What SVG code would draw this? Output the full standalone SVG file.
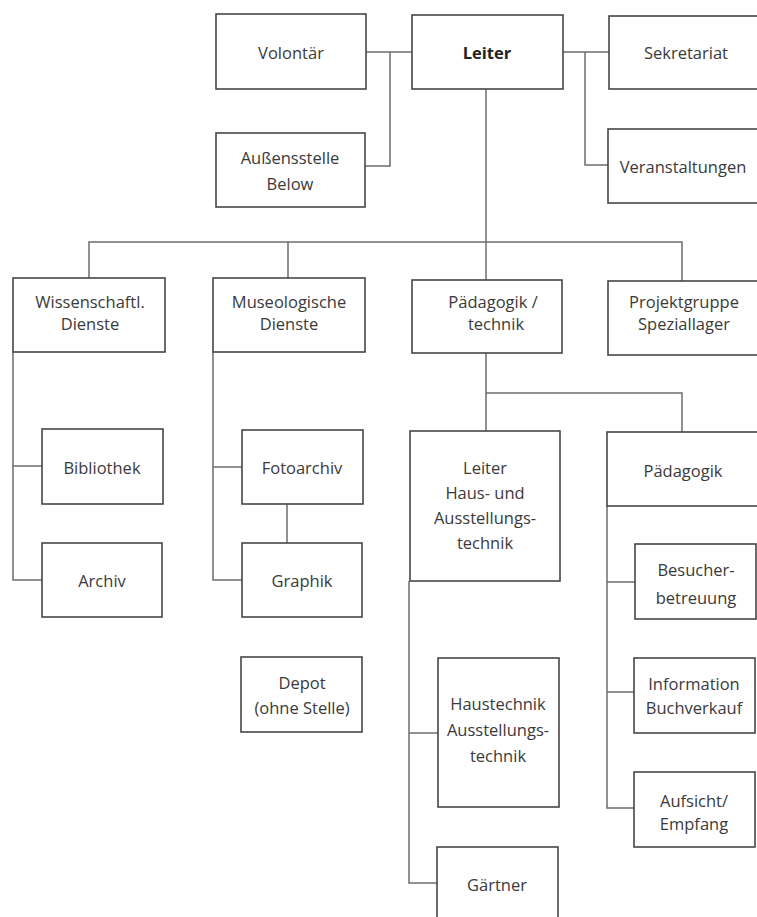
<svg xmlns="http://www.w3.org/2000/svg" width="757" height="917" viewBox="0 0 757 917">
<style>
.box{fill:#fff;stroke:#464646;stroke-width:1.6}
.t{font-family:"Open Sans","Liberation Sans",sans-serif;font-size:16.5px;fill:#3a3a3a;text-anchor:middle;dominant-baseline:central}
.b{font-weight:bold;fill:#222}
.c{fill:none;stroke:#6e6e6e;stroke-width:1.5}
</style>
<rect width="757" height="917" fill="#fff"/>
<g id="connectors" class="c">
<path d="M366 52H412M390 52V166H365"/>
<path d="M563 52H609M585 52V165H608"/>
<path d="M486 89V280"/>
<path d="M89 278V242H682V281M288 242V278"/>
<path d="M13 352V580H42M13 466H42"/>
<path d="M213 352V580H242M213 467H242"/>
<path d="M287 504V543"/>
<path d="M486 353V431M486 393H682V432"/>
<path d="M409 581V883H437M409 733H438"/>
<path d="M607 506V808H634M607 582H635M607 692H634"/>
</g>
<g id="volontaer"><rect class="box" x="216" y="14" width="150" height="75"/><text class="t" x="291" y="52">Volontär</text></g>
<g id="leiter"><rect class="box" x="412" y="15" width="151" height="74"/><text class="t b" x="487" y="52">Leiter</text></g>
<g id="sekretariat"><rect class="box" x="609" y="16" width="160" height="73"/><text class="t" x="686" y="52">Sekretariat</text></g>
<g id="aussenstelle"><rect class="box" x="216" y="133" width="149" height="74"/><text class="t" x="290" y="157">Außensstelle</text><text class="t" x="290" y="183">Below</text></g>
<g id="veranstaltungen"><rect class="box" x="608" y="129" width="160" height="74"/><text class="t" x="683" y="166">Veranstaltungen</text></g>
<g id="wissenschaftl"><rect class="box" x="13" y="278" width="152" height="74"/><text class="t" x="90" y="301">Wissenschaftl.</text><text class="t" x="90" y="323">Dienste</text></g>
<g id="museologische"><rect class="box" x="213" y="278" width="152" height="74"/><text class="t" x="289" y="301">Museologische</text><text class="t" x="289" y="323">Dienste</text></g>
<g id="paedagogik-technik"><rect class="box" x="412" y="280" width="150" height="73"/><text class="t" x="493" y="301">Pädagogik /</text><text class="t" x="496" y="323">technik</text></g>
<g id="projektgruppe"><rect class="box" x="608" y="281" width="160" height="74"/><text class="t" x="684" y="301">Projektgruppe</text><text class="t" x="684" y="323">Speziallager</text></g>
<g id="bibliothek"><rect class="box" x="42" y="429" width="121" height="75"/><text class="t" x="102" y="467">Bibliothek</text></g>
<g id="archiv"><rect class="box" x="42" y="543" width="120" height="74"/><text class="t" x="102" y="580">Archiv</text></g>
<g id="fotoarchiv"><rect class="box" x="242" y="430" width="121" height="74"/><text class="t" x="302" y="467">Fotoarchiv</text></g>
<g id="graphik"><rect class="box" x="242" y="543" width="120" height="74"/><text class="t" x="302" y="580">Graphik</text></g>
<g id="depot"><rect class="box" x="241" y="657" width="121" height="75"/><text class="t" x="302" y="682">Depot</text><text class="t" x="302" y="707">(ohne Stelle)</text></g>
<g id="leiter-haus"><rect class="box" x="410" y="431" width="150" height="150"/><text class="t" x="485" y="467">Leiter</text><text class="t" x="485" y="492">Haus- und</text><text class="t" x="485" y="517">Ausstellungs-</text><text class="t" x="485" y="542">technik</text></g>
<g id="paedagogik"><rect class="box" x="607" y="432" width="161" height="74"/><text class="t" x="683" y="470">Pädagogik</text></g>
<g id="besucher"><rect class="box" x="635" y="544" width="121" height="75"/><text class="t" x="696" y="569">Besucher-</text><text class="t" x="696" y="597">betreuung</text></g>
<g id="haustechnik"><rect class="box" x="438" y="658" width="121" height="149"/><text class="t" x="498" y="703">Haustechnik</text><text class="t" x="498" y="729">Ausstellungs-</text><text class="t" x="498" y="755">technik</text></g>
<g id="information"><rect class="box" x="634" y="658" width="121" height="75"/><text class="t" x="694" y="683">Information</text><text class="t" x="694" y="707">Buchverkauf</text></g>
<g id="aufsicht"><rect class="box" x="634" y="772" width="121" height="75"/><text class="t" x="694" y="800">Aufsicht/</text><text class="t" x="694" y="823">Empfang</text></g>
<g id="gaertner"><rect class="box" x="437" y="847" width="121" height="85"/><text class="t" x="497" y="884">Gärtner</text></g>
</svg>
